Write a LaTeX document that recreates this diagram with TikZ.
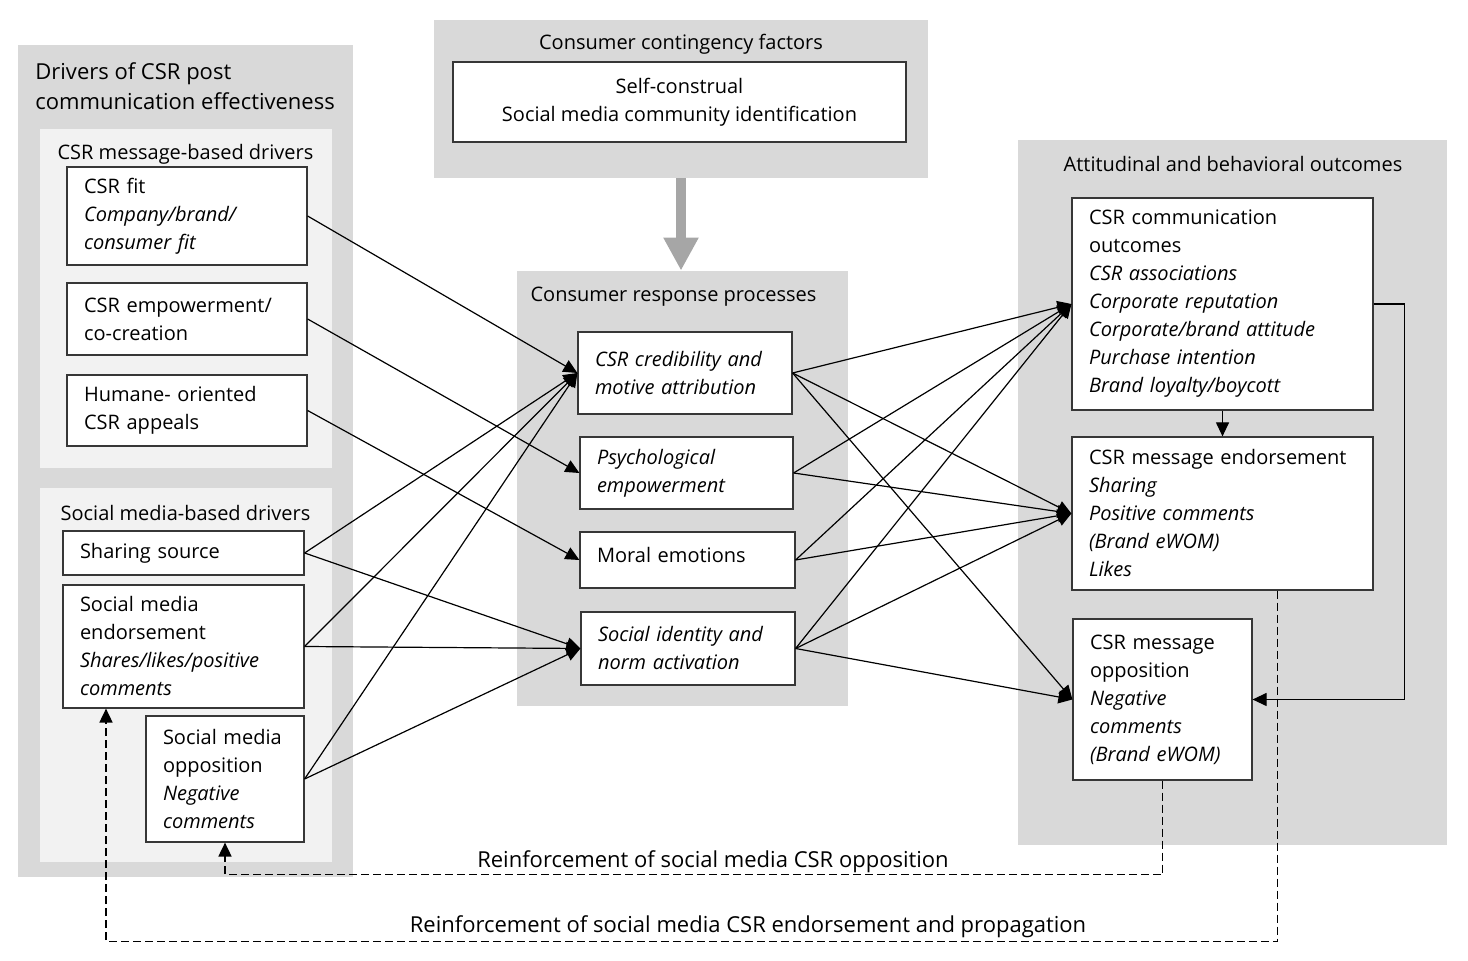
\documentclass[tikz,border=0pt]{standalone}
\usepackage{fontspec}
\setmainfont{Open Sans}
\usetikzlibrary{arrows.meta, positioning}
\definecolor{panelgray}{RGB}{217,217,217}
\definecolor{sublight}{RGB}{242,242,242}
\definecolor{arrowgray}{RGB}{166,166,166}
\definecolor{edgegray}{RGB}{55,55,55}

\tikzset{
  panel/.style={fill=panelgray, inner sep=0pt},
  subpanel/.style={fill=sublight, inner sep=0pt},
  box/.style={draw=edgegray, line width=0.6pt, fill=white, align=left, inner xsep=8.5pt, inner ysep=0pt},
  heading/.style={inner sep=0pt},
  link/.style={line width=0.6pt, -{Triangle[length=7pt,width=6.5pt]}},
  loopback/.style={line width=0.9pt, dash pattern=on 4pt off 2pt, -{Triangle[length=7pt,width=6.5pt]}},
}

\begin{document}
\begin{tikzpicture}[x=0.5pt, y=-0.5pt, font=\fontsize{10}{14}\selectfont]
\useasboundingbox (0,0) rectangle (1468,961);

% Panels
\node[panel, minimum width=167.5pt, minimum height=416pt] (drvP) at (185.5,461) {};
\node[subpanel, minimum width=146pt, minimum height=169.5pt] (msgP) at (186,298.5) {};
\node[subpanel, minimum width=146pt, minimum height=187pt] (smP) at (186,675) {};
\node[panel, minimum width=247pt, minimum height=79pt] (conP) at (681,99) {};
\node[panel, minimum width=165.5pt, minimum height=217.5pt] (resP) at (682.5,488.5) {};
\node[panel, minimum width=214.5pt, minimum height=352.5pt] (outP) at (1232.5,492.5) {};

% Panel headings
\node[heading, anchor=west, align=left, font=\fontsize{11}{15}\selectfont] (drvT) at (35,86) {Drivers of CSR post\\communication effectiveness};
\node[heading] (msgT) at (185.5,154) {CSR message-based drivers};
\node[heading] (smT) at (185.5,513) {Social media-based drivers};
\node[heading] (conT) at (681,44) {Consumer contingency factors};
\node[heading] (resT) at (673.5,297) {Consumer response processes};
\node[heading] (outT) at (1233,164) {Attitudinal and behavioral outcomes};

% Drivers
\node[box, text width=103pt, minimum height=49pt] (fit) at (187,216) {CSR fit\\\textit{Company/brand/}\\\textit{consumer fit}};
\node[box, text width=103pt, minimum height=36pt] (empow) at (187,319) {CSR empowerment/\\co-creation};
\node[box, text width=103pt, minimum height=35.5pt] (humane) at (187,410.5) {Humane- oriented\\CSR appeals};
\node[box, text width=103.5pt, minimum height=22pt] (share) at (183.5,553) {Sharing source};
\node[box, text width=103.5pt, minimum height=61.5pt] (smend) at (183.5,646.5) {Social media\\endorsement\\\textit{Shares/likes/positive}\\\textit{comments}};
\node[box, text width=62pt, minimum height=63pt] (smopp) at (225,779) {Social media\\opposition\\\textit{Negative}\\\textit{comments}};

% Contingency factors
\node[box, align=center, minimum width=226.5pt, minimum height=40pt] (contin) at (679.5,102) {Self-construal\\Social media community identification};

% Response processes
\node[box, text width=90pt, minimum height=41pt, font=\fontsize{10}{14}\selectfont\itshape] (cred) at (685,373) {CSR credibility and\\motive attribution};
\node[box, text width=89.5pt, minimum height=36pt, font=\fontsize{10}{14}\selectfont\itshape] (psych) at (686.5,473) {Psychological\\empowerment};
\node[box, text width=90.5pt, minimum height=28pt, text depth=5pt] (moral) at (687.5,560) {Moral emotions};
\node[box, text width=90pt, minimum height=36.5pt, font=\fontsize{10}{14}\selectfont\itshape] (ident) at (688,648.5) {Social identity and\\norm activation};

% Outcomes
\node[box, text width=133.5pt, minimum height=106pt] (comm) at (1222.5,304) {CSR communication\\outcomes\\\textit{CSR associations}\\\textit{Corporate reputation}\\\textit{Corporate/brand attitude}\\\textit{Purchase intention}\\\textit{Brand loyalty/boycott}};
\node[box, text width=133.5pt, minimum height=76.5pt] (endorse) at (1222.5,513.5) {CSR message endorsement\\\textit{Sharing}\\\textit{Positive comments}\\\textit{(Brand eWOM)}\\\textit{Likes}};
\node[box, text width=72.5pt, minimum height=80.5pt] (oppose) at (1162.5,699.5) {CSR message\\opposition\\\textit{Negative}\\\textit{comments}\\\textit{(Brand eWOM)}};

% Contingency arrow
\draw[arrowgray, line width=5pt, -{Triangle[length=16.5pt,width=16.5pt]}] (conP.south) -- (conP.south |- resP.north);

% Drivers to processes
\draw[link] (fit.east) -- (cred.west);
\draw[link] (empow.east) -- (psych.west);
\draw[link] (humane.east) -- (moral.west);
\foreach \src in {share, smend, smopp} {
    \draw[link] (\src.east) -- (cred.west);
    \draw[link] (\src.east) -- (ident.west);
}

% Processes to outcomes
\foreach \src in {cred, psych, moral, ident} {
    \draw[link] (\src.east) -- (comm.west);
    \draw[link] (\src.east) -- (endorse.west);
}
\draw[link] (cred.east) -- (oppose.west);
\draw[link] (ident.east) -- (oppose.west);

% Within outcomes
\draw[link] (comm.south) -- (endorse.north);
\draw[link] (comm.east) -- ++(31,0) |- (oppose.east);

% Feedback loops
\draw[loopback] (oppose.south) -- ++(0,94) -| (smopp.south);
\node[heading, font=\fontsize{11}{15}\selectfont] (oppL) at (713,862) {Reinforcement of social media CSR opposition};
\draw[loopback] ([xshift=27.5pt]endorse.south) -- ++(0,351) -| ([xshift=-38.75pt]smend.south);
\node[heading, font=\fontsize{11}{15}\selectfont] (endL) at (748,927) {Reinforcement of social media CSR endorsement and propagation};
\end{tikzpicture}
\end{document}
